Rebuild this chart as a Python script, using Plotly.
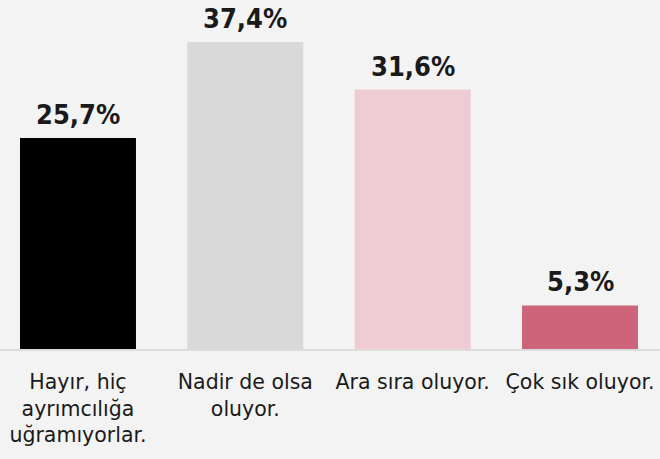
import plotly.graph_objects as go

categories = ["Hayır, hiç<br>ayrımcılığa<br>uğramıyorlar.", "Nadir de olsa<br>oluyor.", "Ara sıra oluyor.", "Çok sık oluyor."]
values = [25.7, 37.4, 31.6, 5.3]
value_labels = ["25,7%", "37,4%", "31,6%", "5,3%"]
colors = ["#000000", "#d9d9d9", "#efcbd3", "#cd6479"]

x = list(range(len(categories)))

fig = go.Figure()
fig.add_trace(go.Bar(
    x=x, y=values, marker=dict(color=colors, line=dict(width=0)),
    width=0.693, hoverinfo="skip",
))
for xi, v, t in zip(x, values, value_labels):
    fig.add_annotation(x=xi, y=v, text=f"<b>{t}</b>", showarrow=False,
                       yanchor="bottom", yshift=6,
                       font=dict(family="DejaVu Sans Condensed, DejaVu Sans", size=27, color="#1a1a1a"))

fig.update_layout(
    width=660, height=459,
    margin=dict(l=0, r=0, t=0, b=110),
    paper_bgcolor="#f3f3f3", plot_bgcolor="#f3f3f3",
    showlegend=False,
    xaxis=dict(range=[-0.466, 3.478], tickvals=x, ticktext=categories,
               showgrid=False, zeroline=False, showline=True,
               linecolor="#dcdcdc", linewidth=1.5, fixedrange=True,
               ticks="outside", ticklen=14, tickcolor="rgba(0,0,0,0)",
               tickfont=dict(family="DejaVu Sans", size=20.5, color="#1a1a1a")),
    yaxis=dict(range=[0, 42.5], visible=False, fixedrange=True),
)
fig.write_html("out.html", config={"displayModeBar": False, "staticPlot": True},
               post_script="document.body.style.margin='0';document.body.style.background='#f3f3f3';")
